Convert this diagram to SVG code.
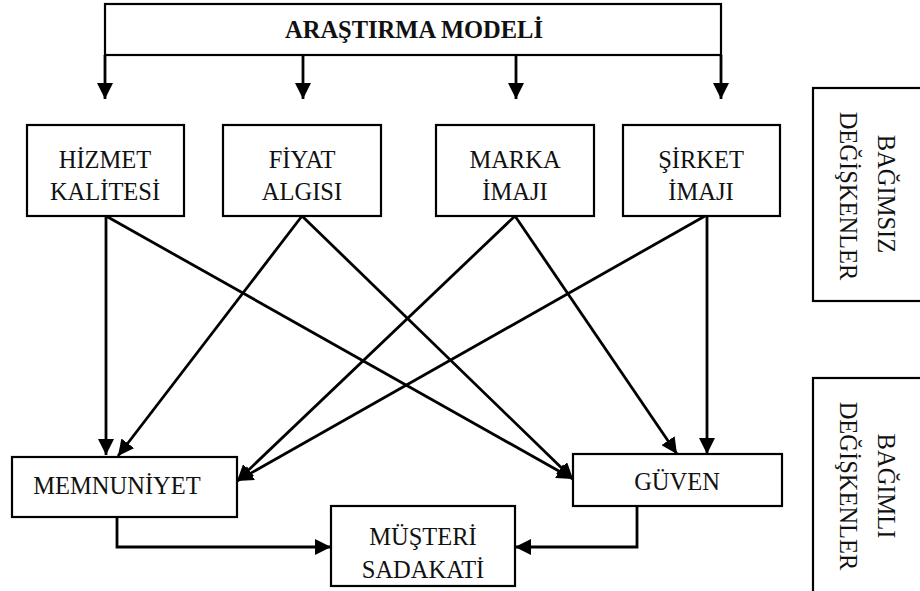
<svg xmlns="http://www.w3.org/2000/svg" width="920" height="591" viewBox="0 0 920 591">
<style>
.box{fill:#fff;stroke:#000;stroke-width:2.2}
.t{font-family:"Liberation Serif","Times New Roman",serif;font-size:24.5px;fill:#111;text-anchor:middle}
.b{font-weight:bold}
.c{fill:none;stroke:#000;stroke-width:2.8}
</style>
<defs>
<marker id="ah" markerUnits="userSpaceOnUse" markerWidth="16" markerHeight="16" refX="16" refY="8" orient="auto" viewBox="0 0 16 16">
<path d="M0,0 L16,8 L0,16 z" fill="#000"/>
</marker>
</defs>
<g id="model">
<rect class="box" x="105" y="4" width="616" height="51"/>
<text class="t b" x="414" y="38">ARAŞTIRMA MODELİ</text>
</g>
<g id="hizmet">
<rect class="box" x="27" y="125" width="157" height="91"/>
<text class="t" x="105" y="168">HİZMET</text>
<text class="t" x="105" y="200">KALİTESİ</text>
</g>
<g id="fiyat">
<rect class="box" x="223" y="125" width="158" height="91"/>
<text class="t" x="302" y="168">FİYAT</text>
<text class="t" x="302" y="200">ALGISI</text>
</g>
<g id="marka">
<rect class="box" x="436" y="125" width="158" height="91"/>
<text class="t" x="515" y="168">MARKA</text>
<text class="t" x="515" y="200">İMAJI</text>
</g>
<g id="sirket">
<rect class="box" x="623" y="125" width="157" height="91"/>
<text class="t" x="701" y="168">ŞİRKET</text>
<text class="t" x="701" y="200">İMAJI</text>
</g>
<g id="bagimsiz">
<rect class="box" x="813" y="88" width="130" height="213"/>
<text class="t" transform="translate(878,194) rotate(90)">BAĞIMSIZ</text>
<text class="t" transform="translate(840,196) rotate(90)">DEĞİŞKENLER</text>
</g>
<g id="bagimli">
<rect class="box" x="813" y="378" width="130" height="240"/>
<text class="t" transform="translate(878,486) rotate(90)">BAĞIMLI</text>
<text class="t" transform="translate(840,486) rotate(90)">DEĞİŞKENLER</text>
</g>
<g id="memnuniyet">
<rect class="box" x="12" y="457" width="225" height="60"/>
<text class="t" x="117" y="494">MEMNUNİYET</text>
</g>
<g id="guven">
<rect class="box" x="573" y="454" width="209" height="52"/>
<text class="t" x="677" y="490">GÜVEN</text>
</g>
<g id="sadakat">
<rect class="box" x="331" y="506" width="184" height="80"/>
<text class="t" x="423" y="545">MÜŞTERİ</text>
<text class="t" x="423" y="578">SADAKATİ</text>
</g>
<g id="connectors">
<path class="c" d="M105,55 L105,99" marker-end="url(#ah)"/>
<path class="c" d="M303,55 L303,99" marker-end="url(#ah)"/>
<path class="c" d="M516,55 L516,99" marker-end="url(#ah)"/>
<path class="c" d="M721,55 L721,99" marker-end="url(#ah)"/>
<path class="c" d="M106,216 L106,455" marker-end="url(#ah)"/>
<path class="c" d="M106,216 L573,479" marker-end="url(#ah)"/>
<path class="c" d="M302,216 L118,456" marker-end="url(#ah)"/>
<path class="c" d="M302,216 L573,479" marker-end="url(#ah)"/>
<path class="c" d="M515,216 L237,481" marker-end="url(#ah)"/>
<path class="c" d="M515,216 L677,454" marker-end="url(#ah)"/>
<path class="c" d="M705,216 L237,481" marker-end="url(#ah)"/>
<path class="c" d="M707,216 L707,454" marker-end="url(#ah)"/>
<path class="c" d="M117,517 L117,547 L331,547" marker-end="url(#ah)"/>
<path class="c" d="M637,506 L637,547 L515,547" marker-end="url(#ah)"/>
</g>
</svg>
